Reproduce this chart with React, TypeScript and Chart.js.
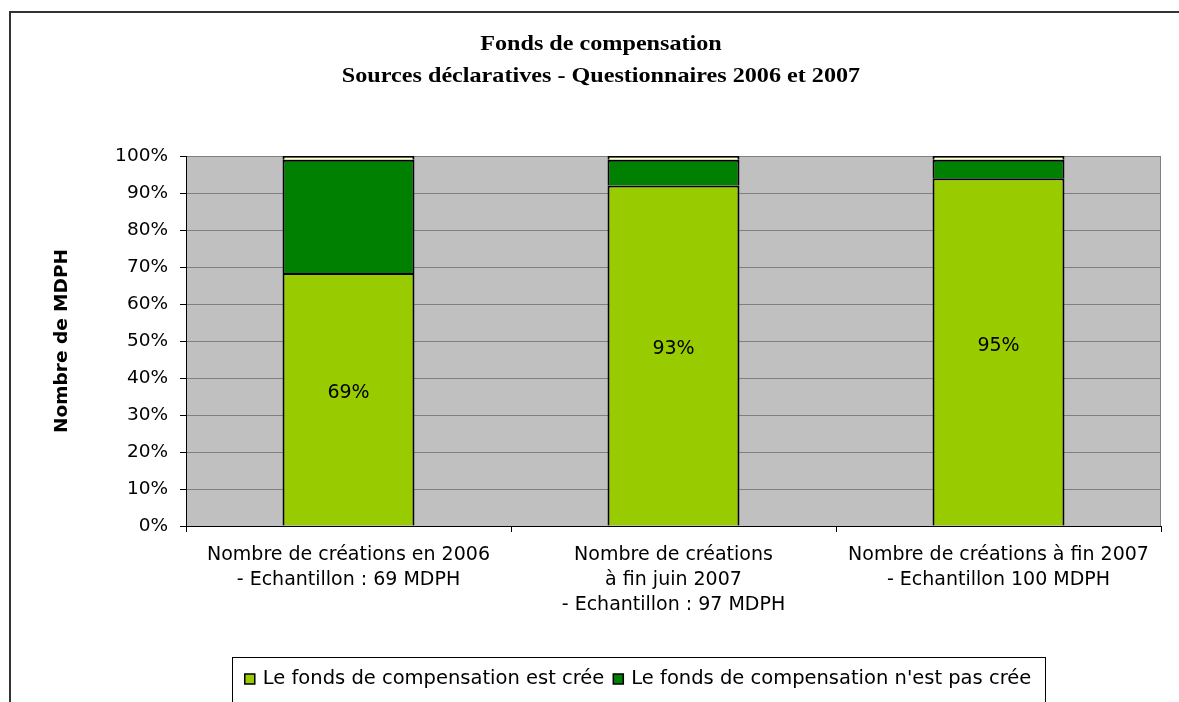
import React, { useEffect, useRef } from 'react';
import { Chart, registerables } from 'chart.js';

Chart.register(...registerables);

const titleLines = ['Fonds de compensation', 'Sources déclaratives - Questionnaires 2006 et 2007'];
const yAxisTitle = 'Nombre de MDPH';
const categories = [
  ['Nombre de créations en 2006', '- Echantillon : 69 MDPH'],
  ['Nombre de créations', 'à fin juin 2007', '- Echantillon : 97 MDPH'],
  ['Nombre de créations à fin 2007', '- Echantillon 100 MDPH'],
];
const seriesNames = ['Le fonds de compensation est crée', "Le fonds de compensation n'est pas crée", 'Non renseigné'];
const createdValues = [68.4, 92, 94];
const notCreatedValues = [30.6, 7, 5];
const remainderValues = [1, 1, 1];
const createdLabels = ['69%', '93%', '95%'];
const yMin = 0;
const yMax = 100;
const yStep = 10;

const SANS = '"DejaVu Sans", "Liberation Sans", Arial, sans-serif';
const SERIF = '"Liberation Serif", "Times New Roman", serif';

const decorPlugin = {
  id: 'decor',
  beforeDraw(chart: any) {
    const { ctx, chartArea: a } = chart;
    ctx.save();
    ctx.fillStyle = '#ffffff';
    ctx.fillRect(0, 0, chart.width, chart.height);
    ctx.fillStyle = '#c0c0c0';
    ctx.fillRect(a.left, a.top, a.right - a.left, a.bottom - a.top);
    // outer chart frame
    ctx.strokeStyle = '#333333';
    ctx.lineWidth = 2;
    ctx.strokeRect(10, 12, chart.width + 50, chart.height + 50);
    ctx.restore();
  },
  beforeDatasetsDraw(chart: any) {
    const { ctx, chartArea: a } = chart;
    ctx.save();
    ctx.strokeStyle = '#808080';
    ctx.lineWidth = 1;
    ctx.beginPath();
    ctx.moveTo(a.right - 0.5, a.top);
    ctx.lineTo(a.right - 0.5, a.bottom);
    ctx.stroke();
    ctx.restore();
  },
  afterDatasetsDraw(chart: any) {
    const { ctx } = chart;
    const meta = chart.getDatasetMeta(0);
    ctx.save();
    ctx.fillStyle = '#000';
    ctx.font = `19px ${SANS}`;
    ctx.textAlign = 'center';
    ctx.textBaseline = 'middle';
    meta.data.forEach((el: any, i: number) => {
      const p = el.getProps(['x', 'y', 'base'], true);
      ctx.fillText(createdLabels[i], p.x, (p.y + p.base) / 2 - 6);
    });
    ctx.restore();
  },
  afterDraw(chart: any) {
    const { ctx } = chart;
    ctx.save();
    // title
    ctx.fillStyle = '#000';
    ctx.font = `bold 21px ${SERIF}`;
    ctx.textAlign = 'center';
    ctx.textBaseline = 'middle';
    const titleX = 601;
    const titleYs = [45, 77];
    titleLines.forEach((t, i) => {
      ctx.save();
      ctx.translate(titleX, titleYs[i]);
      ctx.scale(1.15, 1);
      ctx.fillText(t, 0, 0);
      ctx.restore();
    });
    // legend
    ctx.font = `19.5px ${SANS}`;
    ctx.textAlign = 'left';
    const sq = 10, gapSq = 8, gapItem = 9, pad = 9;
    const items = [0, 1].map((i) => {
      const ds = chart.data.datasets[i];
      return { label: ds.label, color: ds.backgroundColor, w: ctx.measureText(ds.label).width };
    });
    const total = items.reduce((s, it) => s + sq + gapSq + it.w, 0) + gapItem;
    const cx = 638;
    let x = cx - total / 2;
    const boxTop = 657;
    const textY = 679;
    ctx.strokeStyle = '#000';
    ctx.lineWidth = 1;
    ctx.strokeRect(232.5, boxTop + 0.5, 813, 80);
    items.forEach((it) => {
      ctx.fillStyle = it.color;
      ctx.fillRect(x, textY - sq / 2, sq, sq);
      ctx.strokeStyle = '#000';
      ctx.lineWidth = 1.5;
      ctx.strokeRect(x, textY - sq / 2, sq, sq);
      x += sq + gapSq;
      ctx.fillStyle = '#000';
      ctx.fillText(it.label, x, textY);
      x += it.w + gapItem;
    });
    void pad;
    ctx.restore();
  },
};

export default function App() {
  const ref = useRef<HTMLCanvasElement | null>(null);
  useEffect(() => {
    document.body.style.margin = '0';
    const canvas = ref.current;
    if (!canvas) return;
    const barOpts = {
      borderColor: '#000000',
      borderWidth: { left: 2, right: 2, top: 2, bottom: 0 },
      borderSkipped: false,
      inflateAmount: 0,
      categoryPercentage: 1,
      barPercentage: 0.406,
    };
    const chart = new Chart(canvas, {
      type: 'bar',
      data: {
        labels: categories,
        datasets: [
          { label: seriesNames[0], data: createdValues, backgroundColor: '#99cc00', ...barOpts },
          { label: seriesNames[1], data: notCreatedValues, backgroundColor: '#008000', ...barOpts },
          { label: seriesNames[2], data: remainderValues, backgroundColor: '#ffffcc', ...barOpts },
        ],
      } as any,
      options: {
        animation: false,
        responsive: false,
        devicePixelRatio: 1,
        layout: { padding: { top: 156, right: 18, bottom: 46, left: 0 } },
        plugins: {
          legend: { display: false },
          title: { display: false },
          tooltip: { enabled: false },
        },
        scales: {
          x: {
            stacked: true,
            grid: { drawOnChartArea: false, tickColor: '#000', tickLength: 6, offset: true },
            border: { color: '#000', width: 1 },
            ticks: {
              color: '#000',
              font: { family: SANS, size: 19, lineHeight: '25px' },
              padding: 10.5,
              maxRotation: 0,
              autoSkip: false,
            },
            afterFit: (s: any) => { s.height = 130; },
          },
          y: {
            stacked: true,
            min: yMin,
            max: yMax,
            ticks: {
              stepSize: yStep,
              color: '#000',
              font: { family: SANS, size: 18.5 },
              padding: 12,
              callback: (v: any) => `${v}%`,
            },
            grid: { color: '#808080', tickColor: '#000', tickLength: 6, lineWidth: 1 },
            border: { color: '#000', width: 1 },
            title: {
              display: true,
              text: yAxisTitle,
              color: '#000',
              font: { family: SANS, size: 18.5, weight: 'bold' },
              padding: { top: 51, bottom: 0 },
            },
            afterFit: (s: any) => { s.width = 186; },
          },
        },
      } as any,
      plugins: [decorPlugin],
    });
    return () => chart.destroy();
  }, []);
  return (
    <div style={{ width: 1179, height: 702, position: 'relative' }}>
      <canvas ref={ref} width={1179} height={702} style={{ display: 'block', width: 1179, height: 702 }} />
    </div>
  );
}
